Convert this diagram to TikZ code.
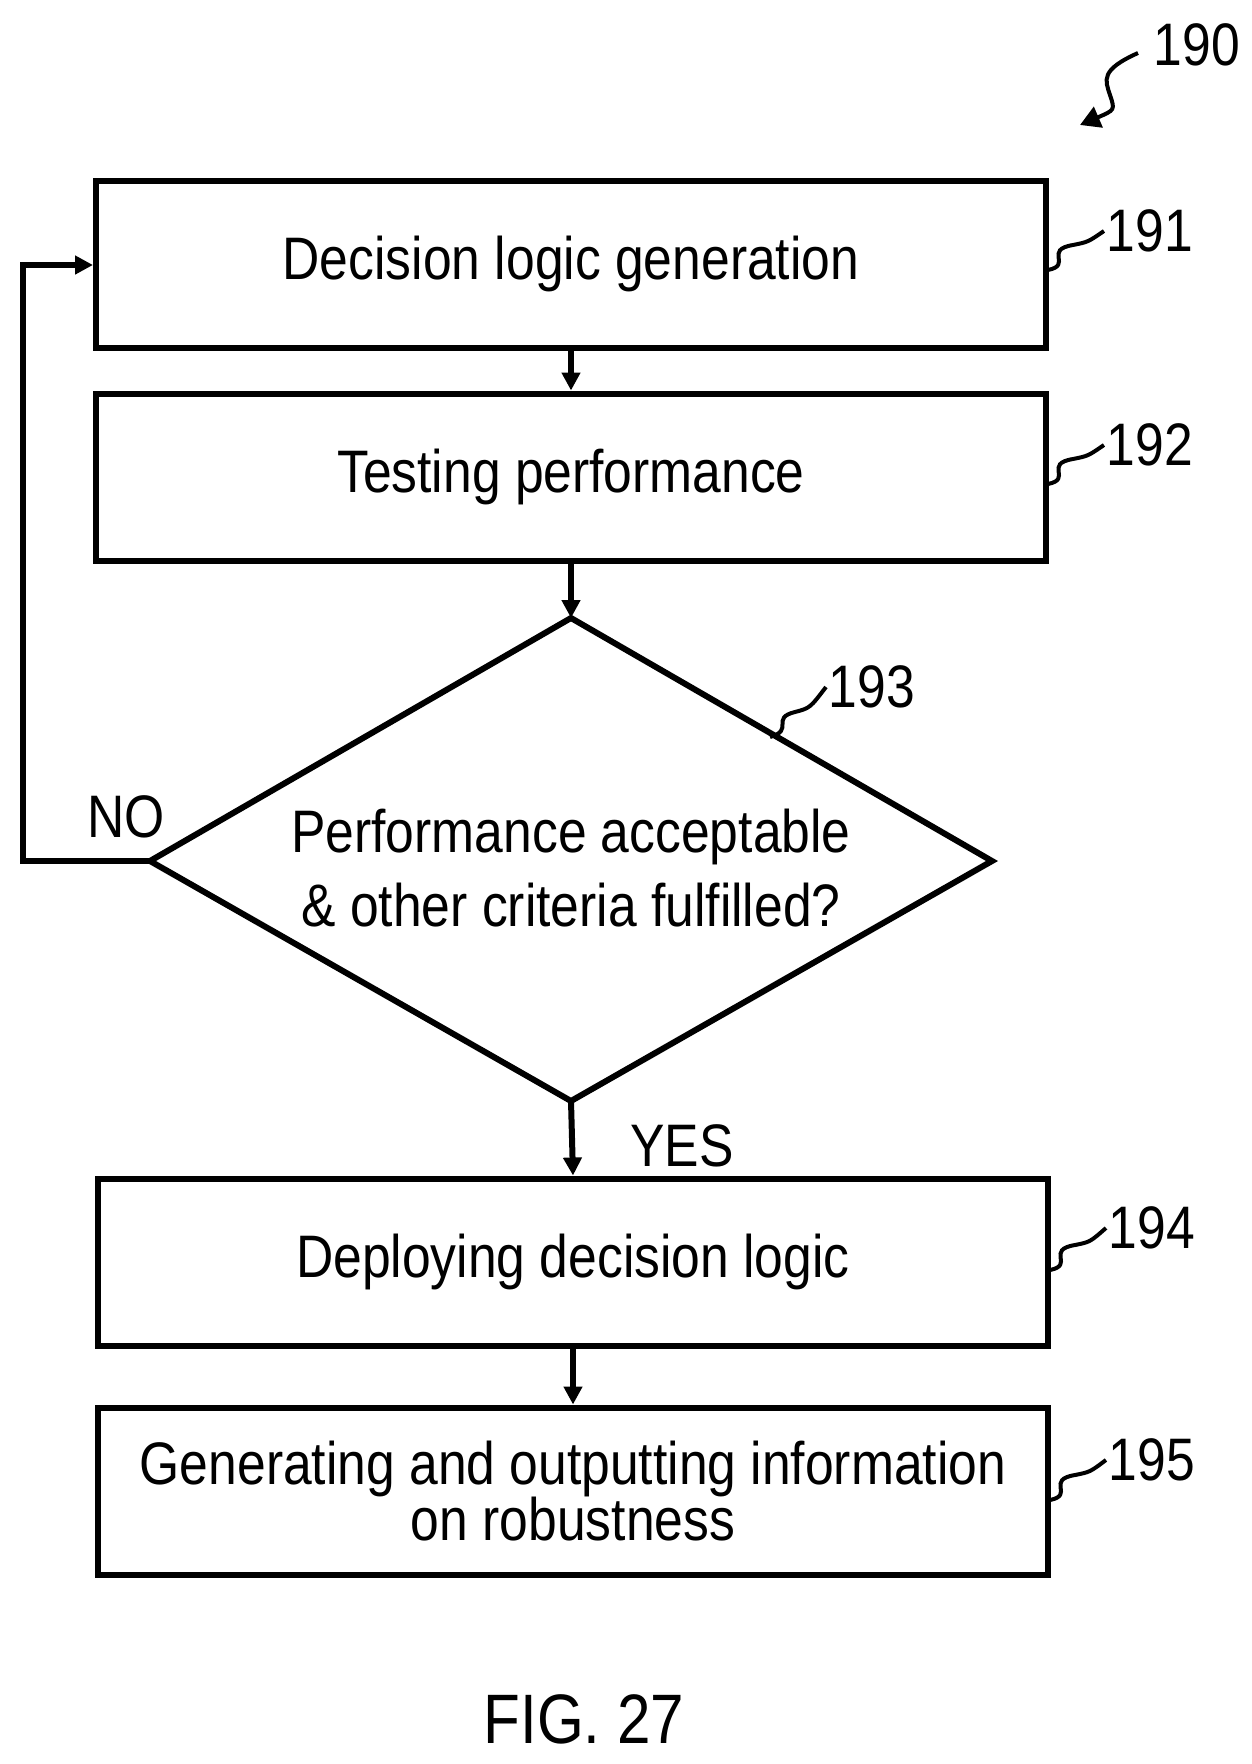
\documentclass[tikz,border=0pt]{standalone}
\usepackage{fontspec}
\setmainfont{Liberation Sans}[FakeStretch=0.86]
\usetikzlibrary{arrows.meta}
\begin{document}
\begin{tikzpicture}[x=1pt,y=-1pt,line width=6pt,
  box/.style={draw,minimum width=950pt,minimum height=167pt,align=center,font=\fontsize{60}{52}\selectfont,inner sep=0pt},
  lbl/.style={font=\fontsize{60}{60}\selectfont,inner sep=0pt},
  arr/.style={-{Triangle[length=18pt,width=18pt]}},
  sq/.style={line width=4pt}]
\useasboundingbox (0,0) rectangle (1251,1764);
\node[box] (b1) at (571,264) {Decision logic generation};
\node[box] (b2) at (571,477) {Testing performance};
\coordinate (dt) at (571,618); \coordinate (db) at (571,1101);
\coordinate (dl) at (150,861); \coordinate (dr) at (992,861);
\draw (dt) -- (dr) -- (db) -- (dl) -- cycle;
\node[lbl,align=center,font=\fontsize{60}{74}\selectfont] (d) at (571,868) {Performance acceptable\\\& other criteria fulfilled?};
\node[box] (b4) at (573,1262) {Deploying decision logic};
\node[box] (b5) at (573,1491) {Generating and outputting information\\on robustness};
\draw[arr] (b1.south) -- (b2.north);
\draw[arr] (b2.south) -- (dt);
\draw[arr] (db) -- (b4.north);
\draw[arr] (b4.south) -- (b5.north);
\coordinate (c1) at (23,861); \coordinate (c2) at (23,265);
\draw[arr] (dl) -- (c1) -- (c2) -- (b1.west |- c2);
\node[lbl] (no) at (126,817) {NO};
\node[lbl] (yes) at (682,1146) {YES};
\node[lbl,font=\fontsize{70}{70}\selectfont] (fig) at (584,1719) {FIG. 27};
\node[lbl] (n190) at (1197,45) {190};
\node[lbl] (n191) at (1150,231) {191};
\node[lbl] (n192) at (1150,445) {192};
\node[lbl] (n193) at (872,687) {193};
\node[lbl] (n194) at (1152,1228) {194};
\node[lbl] (n195) at (1152,1460) {195};
\foreach \n/\x/\y in {191/1048/270,192/1048/484,194/1050/1270,195/1050/1500}{
  \draw[sq] (\x,\y) .. controls (\x+25,\y-5) and (\x-5,\y-20) .. (\x+25,\y-25) .. controls (\x+40,\y-28) .. (n\n.west);
}
\draw[sq] (770,737) .. controls (795,730) and (770,718) .. (795,712) .. controls (810,708) .. (n193.west);
\draw[sq,-{Triangle[length=20pt,width=22pt]}] (1138,53) .. controls (1100,70) and (1105,80) .. (1110,95) .. controls (1115,110) .. (1080,125);
\end{tikzpicture}
\end{document}
